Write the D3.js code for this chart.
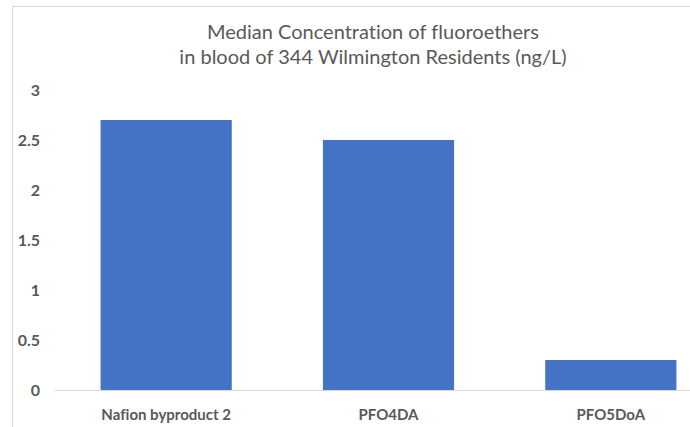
<!DOCTYPE html>
<html>
<head>
<meta charset="utf-8">
<style>
  body { margin: 0; background: #fff }
  svg { display: block }
  text { font-family: Lato, "Liberation Sans", Arial, sans-serif; fill: #595959; font-variant-ligatures: none }
</style>
<script src="https://cdn.jsdelivr.net/npm/d3@7"></script>
</head>
<body>
<svg id="chart"></svg>
<script>
let width = 690,
    height = 427

let categories = ['Nafion byproduct 2', 'PFO4DA', 'PFO5DoA']
let medians = [2.7, 2.5, 0.3]
let yTicks = [0, 0.5, 1, 1.5, 2, 2.5, 3]
let titleLines = ['Median Concentration of fluoroethers', 'in blood of 344 Wilmington Residents (ng/L)']

let font = 'Lato, "Liberation Sans", Arial, sans-serif'

let svg = d3.select('#chart')
    .attr('width', width)
    .attr('height', height)

// chart area frame (only top and left edges show in the crop)
svg.append('path')
    .attr('d', 'M12.5,' + height + 'V6.5H' + width)
    .attr('fill', 'none')
    .attr('stroke', '#d9d9d9')

let x = d3.scaleBand()
    .domain(categories)
    .range([55, 722])
    .paddingInner(0.41)
    .paddingOuter(0.205)

let y = d3.scaleLinear()
    .domain([0, 3])
    .range([390, 90])

svg.selectAll('rect.bar')
    .data(medians)
    .enter()
    .append('rect')
    .attr('class', 'bar')
    .attr('x', (d, i) => x(categories[i]))
    .attr('width', x.bandwidth())
    .attr('y', d => y(d))
    .attr('height', d => y(0) - y(d))
    .attr('fill', '#4472c4')

// baseline
svg.append('line')
    .attr('x1', 55).attr('x2', width)
    .attr('y1', y(0) + 0.5).attr('y2', y(0) + 0.5)
    .attr('stroke', '#d9d9d9')

let yAxis = svg.append('g')
    .attr('transform', 'translate(40,0)')
    .call(d3.axisLeft(y).tickValues(yTicks).tickSize(0).tickPadding(0).tickFormat(d3.format('')))
yAxis.select('.domain').remove()
yAxis.selectAll('text')
    .attr('font-size', 16)
    .attr('font-weight', 'bold')
    .attr('fill', '#595959')
    .style('font-family', font)

let xAxis = svg.append('g')
    .attr('transform', 'translate(0,' + y(0) + ')')
    .call(d3.axisBottom(x).tickSize(0).tickPadding(19))
xAxis.select('.domain').remove()
xAxis.selectAll('text')
    .attr('font-size', 15)
    .attr('font-weight', 'bold')
    .attr('fill', '#595959')
    .style('font-family', font)

svg.selectAll('text.title')
    .data(titleLines)
    .enter()
    .append('text')
    .attr('class', 'title')
    .attr('x', 373)
    .attr('y', (d, i) => 39 + i * 25)
    .attr('text-anchor', 'middle')
    .attr('font-size', 20)
    .text(d => d)
</script>
</body>
</html>
